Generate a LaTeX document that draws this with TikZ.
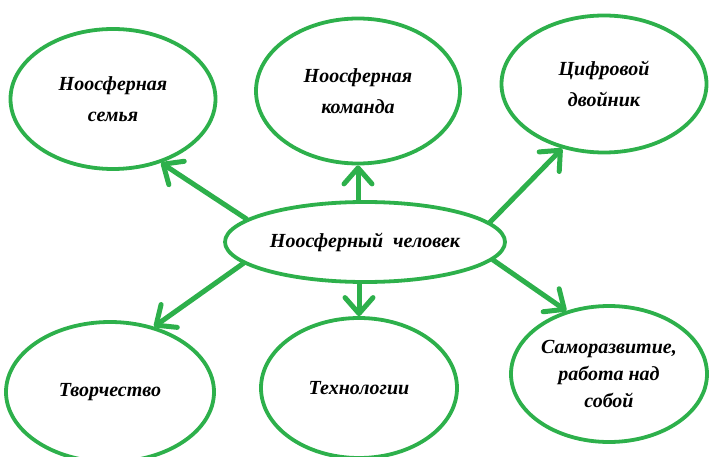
\documentclass[tikz,border=0pt]{standalone}
\usepackage{fontspec}
\setmainfont{Liberation Serif}
\usetikzlibrary{shapes.geometric,arrows.meta}
\definecolor{gr}{HTML}{2DB04B}
\tikzset{
  oval/.style={ellipse, draw=gr, line width=3.8pt, inner sep=0pt, align=center,
    font=\fontsize{20}{31}\selectfont\itshape\bfseries},
  arr/.style={draw=gr, line width=5pt, line cap=round,
    -{Straight Barb[length=16pt,width=28pt,line width=5pt,round]}},
}
\begin{document}
\begin{tikzpicture}[x=1pt,y=-1pt]
\useasboundingbox (0,0) rectangle (712,457);
\begin{scope}
\clip (0,0) rectangle (712,457);
\node[oval, minimum width=205pt, minimum height=140pt] (e1) at (113,99) {Ноосферная\\семья};
\node[oval, minimum width=204pt, minimum height=145pt] (e2) at (358,91) {Ноосферная\\команда};
\node[oval, minimum width=205pt, minimum height=137pt] (e3) at (604,84) {Цифровой\\двойник};
\node[oval, minimum width=280pt, minimum height=80pt] (c) at (365,242) {Ноосферный\ \ человек};
\node[oval, minimum width=208pt, minimum height=140pt] (e4) at (110,392) {Творчество};
\node[oval, minimum width=196pt, minimum height=140pt] (e5) at (359,388) {Технологии};
\node[oval, minimum width=196pt, minimum height=136pt, font=\fontsize{20}{27}\selectfont\itshape\bfseries] (e6) at (609,374) {Саморазвитие,\\работа над\\собой};
\end{scope}
\draw[arr] (c.169) -- (e1.-53);
\draw[arr] (c.north -| e2.south) -- (e2.south);
\draw[arr] (c.9) -- (e3.-123);
\draw[arr] (c.190) -- (e4.56);
\draw[arr] (c.south -| e5.north) -- (e5.north);
\draw[arr] (c.-8) -- (e6.124);
\end{tikzpicture}
\end{document}
